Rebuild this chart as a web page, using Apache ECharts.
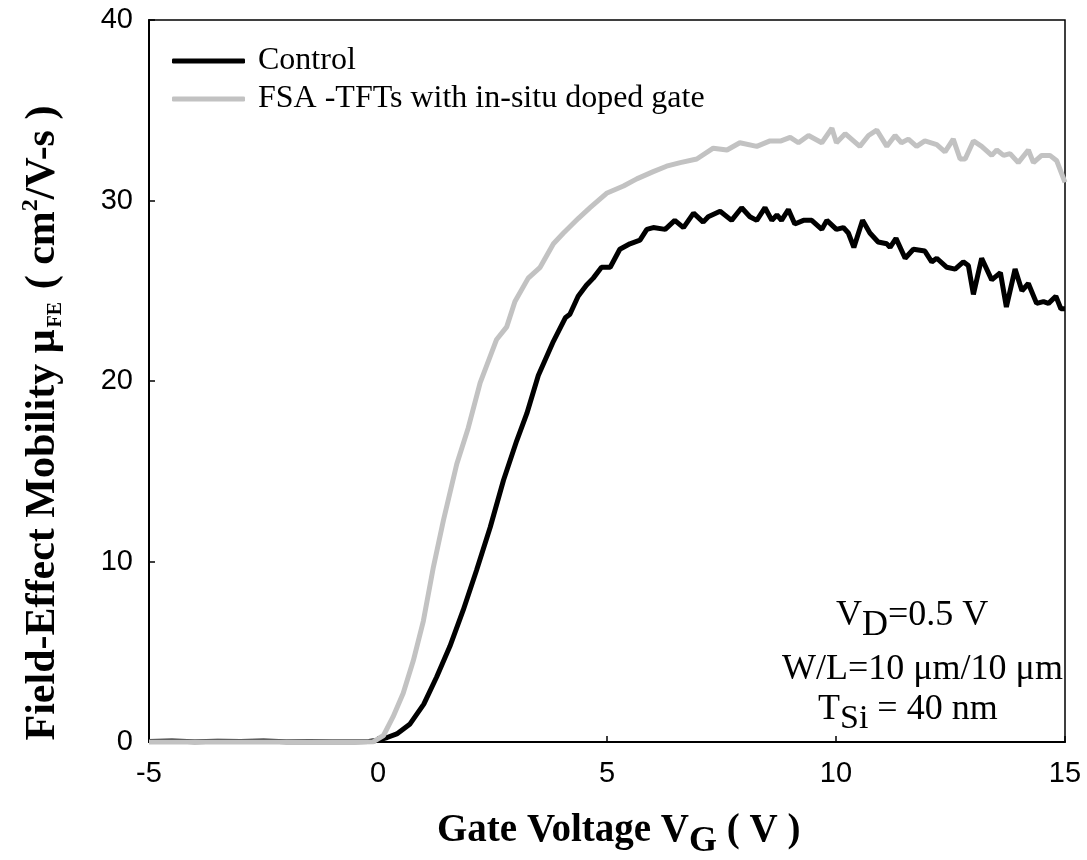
<!DOCTYPE html>
<html>
<head>
<meta charset="utf-8">
<script src="https://cdn.jsdelivr.net/npm/echarts@6/dist/echarts.min.js"></script>
<style>
  html, body { margin: 0; padding: 0; background: #fff; }
  #chart { width: 1087px; height: 860px; }
</style>
</head>
<body>
<div id="chart"></div>
<script>
// Gate voltage (V) and field-effect mobility (cm^2/V-s) for the control device
const controlVg = [-5, -4.5, -4, -3.5, -3, -2.5, -2, -1.5, -1, -0.5, -0.2, 0, 0.2, 0.41, 0.7, 1.0, 1.28, 1.57, 1.86, 2.15, 2.45, 2.74, 3.03, 3.25, 3.5, 3.83, 4.09, 4.19, 4.37, 4.55, 4.70, 4.88, 5.07, 5.28, 5.50, 5.72, 5.87, 6.01, 6.27, 6.48, 6.67, 6.89, 7.10, 7.21, 7.47, 7.72, 7.94, 8.12, 8.27, 8.45, 8.60, 8.71, 8.81, 8.96, 9.10, 9.29, 9.47, 9.69, 9.80, 10.01, 10.16, 10.27, 10.39, 10.58, 10.74, 10.92, 11.11, 11.18, 11.31, 11.51, 11.69, 11.94, 12.09, 12.20, 12.42, 12.60, 12.78, 12.89, 13.0, 13.18, 13.40, 13.59, 13.72, 13.91, 14.06, 14.20, 14.38, 14.53, 14.64, 14.80, 14.91, 15.0];
const controlMu = [0.03, 0.05, 0.02, 0.04, 0.03, 0.05, 0.02, 0.03, 0.02, 0.02, 0.03, 0.1, 0.25, 0.45, 1.0, 2.1, 3.6, 5.3, 7.3, 9.5, 11.9, 14.5, 16.7, 18.2, 20.3, 22.2, 23.5, 23.7, 24.7, 25.3, 25.7, 26.3, 26.3, 27.3, 27.6, 27.8, 28.4, 28.5, 28.4, 28.9, 28.5, 29.3, 28.8, 29.1, 29.4, 28.9, 29.6, 29.1, 28.9, 29.6, 28.9, 29.2, 28.9, 29.5, 28.7, 28.9, 28.9, 28.4, 28.9, 28.4, 28.5, 28.2, 27.4, 28.9, 28.2, 27.7, 27.6, 27.4, 27.9, 26.8, 27.3, 27.2, 26.6, 26.8, 26.3, 26.2, 26.6, 26.4, 24.8, 26.8, 25.6, 26.0, 24.1, 26.2, 25.0, 25.4, 24.3, 24.4, 24.3, 24.7, 24.0, 24.0];

// Gate voltage (V) and mobility for the FSA-TFT with in-situ doped gate
const fsaVg = [-5, -4.5, -4, -3.5, -3, -2.5, -2, -1.5, -1, -0.5, -0.1, 0.12, 0.33, 0.55, 0.77, 0.99, 1.21, 1.43, 1.72, 1.97, 2.23, 2.59, 2.81, 2.99, 3.28, 3.54, 3.83, 4.05, 4.37, 4.63, 4.99, 5.36, 5.65, 6.01, 6.30, 6.60, 6.96, 7.32, 7.62, 7.90, 8.27, 8.56, 8.80, 9.0, 9.18, 9.40, 9.69, 9.91, 10.01, 10.20, 10.52, 10.71, 10.89, 11.11, 11.29, 11.43, 11.58, 11.76, 11.94, 12.20, 12.38, 12.56, 12.71, 12.82, 13.0, 13.18, 13.40, 13.51, 13.66, 13.80, 13.98, 14.20, 14.31, 14.49, 14.67, 14.82, 15.0];
const fsaMu = [0, 0, 0, 0, 0, 0, 0, 0, 0, 0, 0.02, 0.36, 1.4, 2.7, 4.5, 6.7, 9.7, 12.3, 15.4, 17.4, 19.9, 22.3, 23.0, 24.4, 25.7, 26.3, 27.6, 28.2, 29.0, 29.6, 30.4, 30.8, 31.2, 31.6, 31.9, 32.1, 32.3, 32.9, 32.8, 33.2, 33.0, 33.3, 33.3, 33.5, 33.2, 33.6, 33.2, 34.0, 33.2, 33.7, 33.0, 33.6, 33.9, 33.0, 33.6, 33.2, 33.4, 33.0, 33.3, 33.1, 32.7, 33.4, 32.3, 32.3, 33.3, 33.0, 32.5, 32.8, 32.5, 32.6, 32.1, 32.8, 32.1, 32.5, 32.5, 32.2, 31.0];

// Axis ranges and tick labels
const xTicks = [-5, 0, 5, 10, 15];
const yTicks = [0, 10, 20, 30, 40];

const seriesNames = ['Control', 'FSA -TFTs with in-situ doped gate'];
const seriesColors = ['#000000', '#c2c2c2'];

const SERIF = '"Liberation Serif", "Times New Roman", serif';
const SANS = '"Liberation Sans", Arial, sans-serif';

const pairs = (xs, ys) => xs.map((x, i) => [x, ys[i]]);

const chart = echarts.init(document.getElementById('chart'), null, { renderer: 'canvas' });

chart.setOption({
  animation: false,
  backgroundColor: '#fff',
  grid: {
    left: 149, right: 22, top: 20, bottom: 118,
    show: true, borderColor: '#000', borderWidth: 1.5, backgroundColor: 'transparent'
  },
  legend: {
    orient: 'vertical',
    left: 167, top: 40,
    itemWidth: 73, itemHeight: 5, itemGap: 6,
    data: seriesNames.map(n => ({ name: n, icon: 'roundRect' })),
    textStyle: { fontFamily: SERIF, fontSize: 32, color: '#000', padding: [0, 0, 0, 8], lineHeight: 32 }
  },
  xAxis: {
    type: 'value',
    min: xTicks[0], max: xTicks[xTicks.length - 1], interval: 5,
    axisLine: { onZero: false, lineStyle: { color: '#000', width: 2 } },
    axisTick: { inside: true, length: 6, lineStyle: { color: '#000', width: 1.5 } },
    axisLabel: { fontFamily: SANS, fontSize: 29, color: '#000', margin: 17 },
    splitLine: { show: false }
  },
  yAxis: {
    type: 'value',
    min: yTicks[0], max: yTicks[yTicks.length - 1], interval: 10,
    axisLine: { show: true, onZero: false, lineStyle: { color: '#000', width: 2 } },
    axisTick: { show: true, inside: true, length: 6, lineStyle: { color: '#000', width: 1.5 } },
    axisLabel: { fontFamily: SANS, fontSize: 29, color: '#000', margin: 16 },
    splitLine: { show: false }
  },
  series: [
    {
      name: seriesNames[0], type: 'line', symbol: 'none', showSymbol: false, clip: false,
      data: pairs(controlVg, controlMu),
      lineStyle: { color: seriesColors[0], width: 5 }, itemStyle: { color: seriesColors[0] },
      z: 3
    },
    {
      name: seriesNames[1], type: 'line', symbol: 'none', showSymbol: false, clip: false,
      data: pairs(fsaVg, fsaMu),
      lineStyle: { color: seriesColors[1], width: 5 }, itemStyle: { color: seriesColors[1] },
      z: 4
    }
  ],
  graphic: [
    // x-axis title
    {
      type: 'text', left: 437, top: 811,
      style: {
        text: '{t|Gate Voltage V}{s|G}{t| ( V )}',
        rich: {
          t: { fontFamily: SERIF, fontSize: 39, fontWeight: 'bold', fill: '#000' },
          s: { fontFamily: SERIF, fontSize: 36, fontWeight: 'bold', fill: '#000', padding: [22, 0, 0, 0] }
        }
      }
    },
    // y-axis title
    {
      type: 'text', x: 19, y: 423, rotation: Math.PI / 2,
      style: {
        text: '{t|Field-Effect Mobility μ}{s|FE}{t| ( cm}{p|2}{t|/V-s )}',
        align: 'center', verticalAlign: 'top',
        rich: {
          t: { fontFamily: SERIF, fontSize: 42, fontWeight: 'bold', fill: '#000' },
          s: { fontFamily: SERIF, fontSize: 20, fontWeight: 'bold', fill: '#000', padding: [26, 2, 0, 2] },
          p: { fontFamily: SERIF, fontSize: 24, fontWeight: 'bold', fill: '#000', padding: [0, 0, 24, 0] }
        }
      }
    },
    // operating conditions
    {
      type: 'text', left: 836, top: 598,
      style: {
        text: '{t|V}{s|D}{t|=0.5 V}',
        rich: {
          t: { fontFamily: SERIF, fontSize: 36, fill: '#000' },
          s: { fontFamily: SERIF, fontSize: 36, fill: '#000', padding: [20, 0, 0, 0] }
        }
      }
    },
    {
      type: 'text', left: 782, top: 652,
      style: { text: 'W/L=10 μm/10 μm', fontFamily: SERIF, fontSize: 36, fill: '#000' }
    },
    {
      type: 'text', left: 818, top: 692,
      style: {
        text: '{t|T}{s|Si}{t| = 40 nm}',
        rich: {
          t: { fontFamily: SERIF, fontSize: 36, fill: '#000' },
          s: { fontFamily: SERIF, fontSize: 34, fill: '#000', padding: [18, 0, 0, 0] }
        }
      }
    }
  ]
});
</script>
</body>
</html>
